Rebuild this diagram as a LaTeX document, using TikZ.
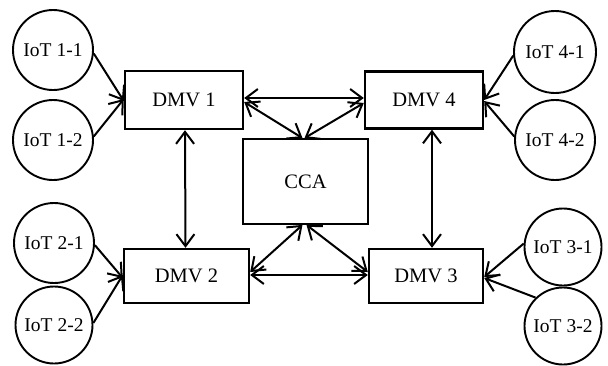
\documentclass[tikz,border=0pt]{standalone}
\usepackage{fontspec}
\setmainfont{Liberation Serif}
\usetikzlibrary{arrows.meta}
\begin{document}
\begin{tikzpicture}[x=1pt,y=-1pt,
  iot/.style={circle,draw,line width=1.9pt,minimum size=80pt,inner sep=0pt,font=\fontsize{19.5}{21}\selectfont},
  box/.style={rectangle,draw,line width=2.4pt,inner sep=0pt,font=\fontsize{20.5}{22}\selectfont},
  link/.style={line width=2pt},
  tip/.style={-{Straight Barb[length=12pt,width=18pt,line width=2pt]}},
  both/.style={{Straight Barb[length=12pt,width=18pt,line width=2pt]}-{Straight Barb[length=12pt,width=18pt,line width=2pt]}}]
\useasboundingbox (0,0) rectangle (608,365);
% boxes
\node[box,minimum width=118pt,minimum height=58pt] (dmv1) at (184,100) {DMV 1};
\node[box,minimum width=118pt,minimum height=57pt] (dmv4) at (424,100) {DMV 4};
\node[box,minimum width=125pt,minimum height=54pt] (dmv2) at (186.5,276) {DMV 2};
\node[box,minimum width=114pt,minimum height=54pt] (dmv3) at (426,276) {DMV 3};
\node[box,line width=1.8pt,minimum width=125pt,minimum height=85pt] (cca) at (305.5,181.5) {CCA};
% IoT circles
\node[iot] (i11) at (53,50) {IoT 1-1};
\node[iot] (i12) at (53,140) {IoT 1-2};
\node[iot] (i21) at (54,243) {IoT 2-1};
\node[iot,minimum size=77pt] (i22) at (54,325) {IoT 2-2};
\node[iot,minimum size=82pt] (i41) at (555,52) {IoT 4-1};
\node[iot] (i42) at (555,140) {IoT 4-2};
\node[iot,minimum size=77pt] (i31) at (563,247) {IoT 3-1};
\node[iot,minimum size=77pt] (i32) at (563,326) {IoT 3-2};
% IoT to DMV
\draw[link,tip] (i11.-5) -- ([yshift=-1pt]dmv1.west);
\draw[link,tip] (i12.5) -- ([yshift=1pt]dmv1.west);
\draw[link,tip] (i21.-3) -- ([yshift=-2pt]dmv2.west);
\draw[link,tip] (i22.3) -- ([yshift=1pt]dmv2.west);
\draw[link,tip] (i41.185) -- (dmv4.east);
\draw[link,tip] (i42.175) -- ([yshift=-1pt]dmv4.east);
\draw[link,tip] (i31.175) -- ([yshift=-1pt]dmv3.east);
\draw[link,tip] (i32.134) -- ([yshift=-2pt]dmv3.east);
% DMV interconnections
\draw[link,both] ([yshift=2pt]dmv1.east) -- ([yshift=2pt]dmv4.west);
\draw[link,both] ([yshift=-2pt]dmv1.east) -- ([xshift=-3pt]cca.north);
\draw[link,both] ([yshift=-3pt]dmv4.west) -- ([xshift=-1pt]cca.north);
\draw[link,both] ([xshift=1pt]dmv1.south) -- ([xshift=-1pt]dmv2.north);
\draw[link,both] ([xshift=8pt]dmv4.south) -- ([xshift=6pt]dmv3.north);
\draw[link,both] ([yshift=4pt]dmv2.east) -- ([xshift=-3pt]cca.south);
\draw[link,both] ([yshift=1pt]dmv2.east) -- ([yshift=1pt]dmv3.west);
\draw[link,both] ([xshift=1pt]cca.south) -- ([yshift=4pt]dmv3.west);
\end{tikzpicture}
\end{document}
